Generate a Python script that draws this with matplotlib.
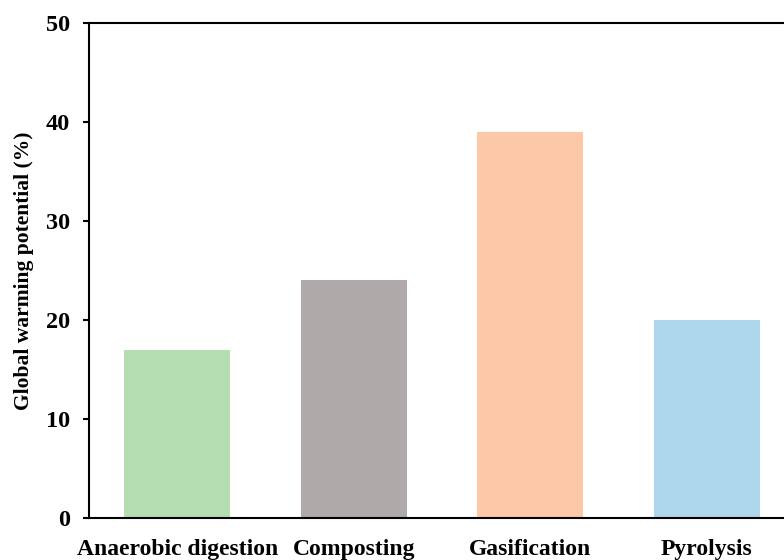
import matplotlib.pyplot as plt

categories = ['Anaerobic digestion', 'Composting', 'Gasification', 'Pyrolysis']
values = [17, 24, 39, 20]
colors = ['#b5ddb2', '#afa9a9', '#fdc8a8', '#aed6ea']

plt.rcParams['font.family'] = ['Liberation Serif', 'DejaVu Serif']
plt.rcParams['font.weight'] = 'bold'

fig = plt.figure(figsize=(7.84, 5.6), dpi=100)
ax = fig.add_axes([89 / 784, 42 / 560, (784 - 89) / 784, 495 / 560])

x = range(len(categories))
ax.bar(x, values, width=0.6, color=colors)

ax.set_xlim(-0.5, -0.5 + 695 / 176.5)
ax.set_ylim(0, 50)
ax.set_yticks(range(0, 51, 10))
ax.set_xticks(list(x))
ax.set_xticklabels(categories, fontsize=17, fontweight='bold')
ax.tick_params(axis='x', length=0, pad=15)
ax.tick_params(axis='y', direction='out', length=4.3, width=1.5, labelsize=17.5, pad=9.5)
for lab in ax.get_yticklabels():
    lab.set_fontweight('bold')

ax.set_ylabel('Global warming potential (%)', fontsize=15.5, fontweight='bold', labelpad=8)

ax.spines['right'].set_visible(False)
for s in ['left', 'top', 'bottom']:
    ax.spines[s].set_linewidth(1.5)

fig.savefig('out.png', dpi=100)
